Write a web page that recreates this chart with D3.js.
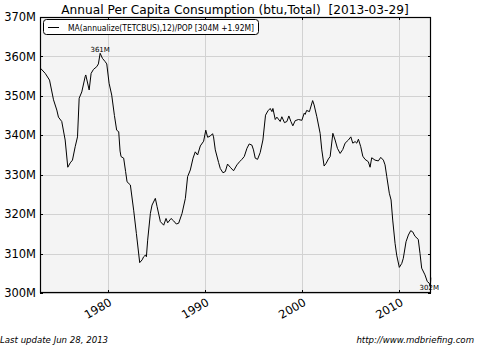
<!DOCTYPE html>
<html><head><meta charset="utf-8">
<script src="https://cdn.jsdelivr.net/npm/d3@7"></script>
<style>body{margin:0;background:#fff}svg{display:block}text{font-family:"DejaVu Sans",sans-serif;white-space:pre}</style>
</head><body><div id="chart"></div>
<script>
const years = [1973.08,1973.57,1974.01,1974.42,1974.76,1974.93,1975.27,1975.62,1975.89,1976.14,1976.37,1976.65,1976.89,1977.06,1977.33,1977.68,1977.74,1978.09,1978.29,1978.53,1978.87,1979.04,1979.22,1979.46,1979.73,1979.90,1980.14,1980.41,1980.69,1980.92,1981.13,1981.27,1981.37,1981.64,1981.84,1981.99,1982.33,1982.67,1982.95,1983.29,1983.54,1983.70,1983.87,1983.98,1984.11,1984.39,1984.56,1984.90,1985.08,1985.42,1985.76,1986.00,1986.17,1986.52,1986.78,1987.06,1987.30,1987.65,1987.99,1988.22,1988.50,1988.78,1989.01,1989.25,1989.53,1989.87,1990.09,1990.28,1990.55,1990.79,1990.89,1991.07,1991.41,1991.58,1991.86,1992.10,1992.33,1992.61,1992.95,1993.30,1993.57,1993.81,1994.05,1994.33,1994.56,1994.84,1995.00,1995.18,1995.42,1995.69,1995.97,1996.24,1996.49,1996.72,1996.90,1997.00,1997.24,1997.41,1997.75,1997.92,1998.19,1998.44,1998.64,1998.85,1999.05,1999.29,1999.63,1999.98,2000.22,2000.32,2000.47,2000.76,2000.83,2001.09,2001.24,2001.52,2001.86,2002.03,2002.27,2002.48,2002.71,2002.89,2003.17,2003.40,2003.64,2003.92,2004.19,2004.43,2004.77,2005.02,2005.22,2005.46,2005.63,2005.80,2006.04,2006.25,2006.48,2006.82,2007.00,2007.17,2007.51,2007.85,2008.10,2008.37,2008.54,2008.72,2008.98,2009.16,2009.33,2009.57,2009.74,2010.01,2010.26,2010.42,2010.70,2010.94,2011.18,2011.39,2011.62,2011.96,2012.14,2012.31,2012.65,2012.89,2013.09,2013.20,2013.25];
const values = [357.0,355.7,354.0,349.0,346.4,344.6,343.5,338.8,331.9,333.0,333.7,337.1,339.6,349.4,351.0,354.9,355.3,351.5,355.7,356.7,357.4,358.1,360.8,359.5,358.7,358.1,353.2,350.2,345.0,341.3,340.9,336.0,334.6,334.2,330.8,328.2,327.4,321.0,315.1,307.7,308.4,309.2,309.6,309.2,313.4,320.2,322.3,324.0,321.9,318.1,317.2,318.9,317.8,318.9,318.3,317.5,317.7,320.2,324.0,329.5,331.2,334.2,335.8,335.0,337.3,338.5,341.3,339.5,339.8,340.4,339.6,336.3,333.1,331.6,330.5,330.8,332.7,331.9,331.0,332.5,333.3,333.9,334.6,336.7,337.8,337.5,336.3,334.2,333.9,335.6,338.8,345.1,346.2,346.8,346.0,346.8,344.0,344.6,343.5,344.7,343.2,343.5,344.9,343.5,342.4,343.7,344.0,343.8,345.6,345.3,346.3,346.0,346.6,348.8,347.7,344.7,340.5,336.3,332.2,332.9,334.0,334.6,340.5,338.8,336.7,335.4,336.4,338.0,338.8,339.6,338.0,338.4,338.0,339.0,337.1,334.7,333.9,333.3,331.9,334.3,333.7,333.5,334.4,333.7,332.5,329.5,325.3,323.6,318.5,312.6,309.6,306.5,307.5,308.8,313.0,314.7,315.8,315.5,314.4,313.6,310.0,306.3,304.6,302.9,302.5,301.6,303.9];
const yTicks = [300,310,320,330,340,350,360,370];
const xTicks = [1980,1990,2000,2010];
const titleText = "Annual Per Capita Consumption (btu,Total)  [2013-03-29]";
const legendText = "MA(annualize(TETCBUS),12)/POP [304M +1.92M]";
const footLeft = "Last update Jun 28, 2013";
const footRight = "http://www.mdbriefing.com";

const W = 478, H = 349;
const m = {l:40, r:431, t:17, b:293};
const svg = d3.select("#chart").append("svg").attr("width", W).attr("height", H);
const x = d3.scaleLinear().domain([1973.03, 2013.27]).range([m.l, m.r]);
const y = d3.scaleLinear().domain([300, 370]).range([m.b, m.t]);

svg.append("rect").attr("x", m.l).attr("y", m.t).attr("width", m.r-m.l).attr("height", m.b-m.t).attr("fill", "#f4f4f4");

// grid
svg.append("g").selectAll("line").data(yTicks).join("line")
  .attr("x1", m.l).attr("x2", m.r).attr("y1", d=>Math.round(y(d))+0.5).attr("y2", d=>Math.round(y(d))+0.5)
  .attr("stroke", "#d2d2d2").attr("stroke-width", 1);
svg.append("g").selectAll("line").data(xTicks).join("line")
  .attr("y1", m.t).attr("y2", m.b).attr("x1", d=>Math.round(x(d))+0.5).attr("x2", d=>Math.round(x(d))+0.5)
  .attr("stroke", "#d2d2d2").attr("stroke-width", 1);

// axes
const yAxis = d3.axisLeft(y).tickValues(yTicks).tickSize(0).tickPadding(4).tickFormat(d=>d+"M");
const gy = svg.append("g").attr("transform", `translate(${m.l},0)`).call(yAxis);
gy.select(".domain").remove();
gy.selectAll("text").attr("font-size", 11.5).attr("fill", "#000").attr("font-family", "DejaVu Sans");

const xAxis = d3.axisBottom(x).tickValues(xTicks).tickSize(0).tickFormat(d3.format("d"));
const gx = svg.append("g").attr("transform", `translate(0,${m.b})`).call(xAxis);
gx.select(".domain").remove();
gx.selectAll("text").attr("font-size", 11.5).attr("fill", "#000").attr("font-family", "DejaVu Sans")
  .attr("text-anchor", "end").attr("dy", null).attr("y", 0)
  .attr("transform", "translate(0,4) rotate(-30)").attr("dominant-baseline", "hanging");

// inner ticks
svg.append("g").selectAll("line").data(yTicks).join("line")
  .attr("x1", m.r-3).attr("x2", m.r).attr("y1", d=>Math.round(y(d))+0.5).attr("y2", d=>Math.round(y(d))+0.5).attr("stroke", "#000");
svg.append("g").selectAll("line").data(yTicks).join("line")
  .attr("x1", m.l).attr("x2", m.l+3).attr("y1", d=>Math.round(y(d))+0.5).attr("y2", d=>Math.round(y(d))+0.5).attr("stroke", "#000");
svg.append("g").selectAll("line").data(xTicks).join("line")
  .attr("y1", m.b-3).attr("y2", m.b).attr("x1", d=>Math.round(x(d))+0.5).attr("x2", d=>Math.round(x(d))+0.5).attr("stroke", "#000");
svg.append("g").selectAll("line").data(xTicks).join("line")
  .attr("y1", m.t).attr("y2", m.t+3).attr("x1", d=>Math.round(x(d))+0.5).attr("x2", d=>Math.round(x(d))+0.5).attr("stroke", "#000");

// line
const data = years.map((d,i)=>({x:d, v:values[i]}));
svg.append("path").datum(data).attr("fill","none").attr("stroke","#000").attr("stroke-width",1)
  .attr("d", d3.line().x(d=>x(d.x)).y(d=>y(d.v)));

// frame
svg.append("rect").attr("x", m.l+0.5).attr("y", m.t+0.5).attr("width", m.r-m.l-1).attr("height", m.b-m.t-1)
  .attr("fill","none").attr("stroke","#000").attr("stroke-width",1.2);

// annotations
const maxD = data.reduce((a,b)=>b.v>a.v?b:a);
const minD = data.reduce((a,b)=>b.v<a.v?b:a);
svg.append("text").attr("x", x(maxD.x)).attr("y", y(maxD.v)-1).attr("text-anchor","middle")
  .attr("font-size", 7).attr("fill","#000").text(Math.round(maxD.v)+"M");
svg.append("text").attr("x", x(minD.x)-1).attr("y", y(minD.v)+3).attr("text-anchor","middle")
  .attr("font-size", 7).attr("fill","#000").text(Math.round(minD.v)+"M");

// legend
svg.append("rect").attr("x", 43.5).attr("y", 19.5).attr("width", 215).attr("height", 15).attr("rx", 3)
  .attr("fill","#fff").attr("stroke","#000").attr("stroke-width",1);
svg.append("line").attr("x1", 48).attr("x2", 59).attr("y1", 27.5).attr("y2", 27.5).attr("stroke","#000");
svg.append("text").attr("x", 68).attr("y", 30.5).attr("font-size", 8).attr("fill","#000")
  .attr("textLength", 186).attr("lengthAdjust", "spacingAndGlyphs").text(legendText);

// title
svg.append("text").attr("x", 235).attr("y", 14).attr("text-anchor","middle").attr("font-size", 12.2).attr("fill","#000").text(titleText);

// footer
svg.append("text").attr("x", 0).attr("y", 343).attr("font-size", 8.6).attr("font-style","italic").attr("fill","#000").text(footLeft);
svg.append("text").attr("x", 474).attr("y", 343).attr("text-anchor","end").attr("font-size", 8.6).attr("font-style","italic").attr("fill","#000").text(footRight);
</script></body></html>
